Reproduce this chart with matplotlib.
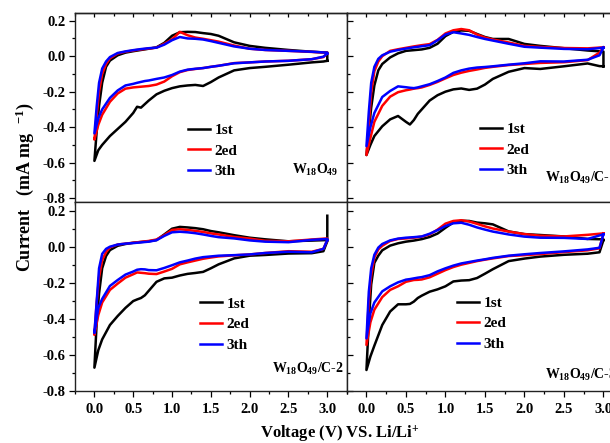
import matplotlib
matplotlib.use("Agg")
import matplotlib.pyplot as plt
from matplotlib.ticker import MultipleLocator

plt.rcParams["font.family"] = "Liberation Serif"
plt.rcParams["font.weight"] = "bold"
plt.rcParams["mathtext.fontset"] = "custom"
plt.rcParams["mathtext.rm"] = "Liberation Serif:bold"
plt.rcParams["mathtext.it"] = "Liberation Serif:bold"
plt.rcParams["mathtext.bf"] = "Liberation Serif:bold"
plt.rcParams["axes.unicode_minus"] = False

# ---------------- data ----------------
# cathodic scan (3.0 V -> 0.0 V) and anodic scan (0.0 V -> 3.0 V)
V_LOW = [3.0, 2.95, 2.8, 2.5, 2.2, 2.0, 1.8, 1.6, 1.5, 1.4, 1.3, 1.2, 1.1, 1.0,
         0.9, 0.8, 0.7, 0.65, 0.6, 0.55, 0.5, 0.4, 0.3, 0.2, 0.1, 0.05, 0.0]
V_UP = [0.0, 0.03, 0.06, 0.1, 0.15, 0.2, 0.3, 0.4, 0.5, 0.6, 0.7, 0.8, 0.9, 1.0,
        1.1, 1.2, 1.3, 1.4, 1.5, 1.6, 1.8, 2.0, 2.2, 2.5, 2.8, 3.0]

cycles = ["1st", "2ed", "3th"]
colors = ["#000000", "#ff0000", "#0000ff"]

# Panel A: W18O49
A_low_1 = [-0.026, -0.03, -0.035, -0.048, -0.06, -0.067, -0.08, -0.12, -0.146, -0.168, -0.162, -0.165, -0.17, -0.18,
           -0.195, -0.215, -0.25, -0.27, -0.29, -0.285, -0.32, -0.37, -0.41, -0.45, -0.50, -0.53, -0.59]
A_low_2 = [0.015, -0.005, -0.017, -0.026, -0.03, -0.035, -0.039, -0.054, -0.06, -0.067, -0.072, -0.078, -0.09, -0.113,
           -0.143, -0.16, -0.168, -0.17, -0.172, -0.174, -0.176, -0.183, -0.21, -0.257, -0.33, -0.387, -0.47]
A_low_3 = [0.015, -0.003, -0.017, -0.026, -0.03, -0.035, -0.04, -0.054, -0.06, -0.067, -0.071, -0.076, -0.087, -0.106,
           -0.12, -0.128, -0.137, -0.14, -0.145, -0.15, -0.156, -0.165, -0.193, -0.235, -0.30, -0.35, -0.435]
A_up_1 = [-0.59, -0.42, -0.28, -0.15, -0.06, -0.025, 0.005, 0.02, 0.028, 0.035, 0.042, 0.05, 0.075, 0.115,
          0.135, 0.137, 0.136, 0.13, 0.125, 0.115, 0.078, 0.058, 0.047, 0.035, 0.025, 0.02]
A_up_2 = [-0.47, -0.33, -0.2, -0.1, -0.045, -0.012, 0.015, 0.025, 0.032, 0.038, 0.043, 0.048, 0.07, 0.095,
          0.137, 0.118, 0.105, 0.098, 0.09, 0.082, 0.06, 0.042, 0.035, 0.03, 0.024, 0.02]
A_up_3 = [-0.435, -0.28, -0.15, -0.07, -0.03, -0.005, 0.018, 0.027, 0.034, 0.04, 0.045, 0.048, 0.065, 0.09,
          0.108, 0.1, 0.098, 0.094, 0.085, 0.075, 0.055, 0.042, 0.035, 0.03, 0.025, 0.02]

# Panel B: W18O49/C-1
B_low_1 = [-0.057, -0.056, -0.041, -0.057, -0.072, -0.067, -0.088, -0.128, -0.16, -0.183, -0.19, -0.182, -0.187, -0.2,
           -0.22, -0.25, -0.30, -0.325, -0.36, -0.385, -0.37, -0.337, -0.356, -0.395, -0.45, -0.50, -0.557]
B_low_2 = [0.05, 0.02, -0.022, -0.034, -0.038, -0.044, -0.05, -0.06, -0.066, -0.075, -0.083, -0.093, -0.106, -0.125,
           -0.145, -0.162, -0.176, -0.18, -0.183, -0.188, -0.192, -0.203, -0.228, -0.28, -0.37, -0.461, -0.557]
B_low_3 = [0.048, 0.005, -0.02, -0.03, -0.029, -0.04, -0.048, -0.057, -0.061, -0.064, -0.07, -0.08, -0.094, -0.12,
           -0.14, -0.158, -0.17, -0.176, -0.18, -0.178, -0.175, -0.17, -0.196, -0.23, -0.32, -0.40, -0.507]
B_up_1 = [-0.557, -0.424, -0.29, -0.165, -0.08, -0.044, -0.007, 0.016, 0.03, 0.034, 0.038, 0.047, 0.07, 0.113,
          0.137, 0.145, 0.143, 0.125, 0.108, 0.097, 0.097, 0.069, 0.058, 0.045, 0.032, 0.026]
B_up_2 = [-0.557, -0.387, -0.205, -0.085, -0.03, 0.0, 0.03, 0.039, 0.047, 0.055, 0.062, 0.068, 0.092, 0.128,
          0.146, 0.153, 0.146, 0.122, 0.105, 0.094, 0.077, 0.058, 0.052, 0.046, 0.044, 0.05]
B_up_3 = [-0.507, -0.313, -0.15, -0.06, -0.015, 0.005, 0.025, 0.035, 0.043, 0.05, 0.056, 0.062, 0.09, 0.122,
          0.135, 0.128, 0.12, 0.108, 0.097, 0.088, 0.07, 0.053, 0.048, 0.041, 0.039, 0.048]

# Panel C: W18O49/C-2
C_low_1 = [0.03, -0.025, -0.036, -0.038, -0.046, -0.05, -0.065, -0.098, -0.12, -0.14, -0.146, -0.151, -0.16, -0.172,
           -0.176, -0.195, -0.245, -0.27, -0.285, -0.293, -0.302, -0.34, -0.385, -0.435, -0.515, -0.575, -0.672]
C_low_2 = [0.037, -0.012, -0.028, -0.025, -0.035, -0.043, -0.048, -0.054, -0.06, -0.067, -0.077, -0.087, -0.098, -0.123,
           -0.138, -0.152, -0.15, -0.147, -0.145, -0.143, -0.153, -0.172, -0.205, -0.24, -0.31, -0.38, -0.49]
C_low_3 = [0.037, -0.012, -0.031, -0.028, -0.035, -0.043, -0.047, -0.05, -0.054, -0.058, -0.066, -0.077, -0.087, -0.103,
           -0.118, -0.131, -0.13, -0.126, -0.125, -0.128, -0.138, -0.155, -0.185, -0.218, -0.29, -0.34, -0.48]
C_up_1 = [-0.672, -0.417, -0.26, -0.12, -0.052, -0.019, 0.005, 0.015, 0.022, 0.026, 0.03, 0.037, 0.068, 0.1,
          0.11, 0.107, 0.103, 0.097, 0.087, 0.08, 0.064, 0.05, 0.041, 0.03, 0.034, 0.037]
C_spike_1 = 0.172  # final current of the 1st cycle at 3.0 V
C_up_2 = [-0.49, -0.306, -0.17, -0.075, -0.03, -0.004, 0.012, 0.017, 0.022, 0.027, 0.032, 0.04, 0.064, 0.093,
          0.097, 0.093, 0.088, 0.082, 0.074, 0.068, 0.054, 0.045, 0.033, 0.03, 0.04, 0.046]
C_up_3 = [-0.48, -0.3, -0.12, -0.04, -0.012, 0.0, 0.012, 0.017, 0.02, 0.024, 0.028, 0.036, 0.06, 0.08,
          0.083, 0.08, 0.075, 0.068, 0.06, 0.053, 0.046, 0.035, 0.028, 0.025, 0.038, 0.043]

# Panel D: W18O49/C-3
D_low_1 = [0.037, -0.031, -0.039, -0.045, -0.055, -0.066, -0.08, -0.125, -0.15, -0.174, -0.186, -0.188, -0.193, -0.22,
           -0.237, -0.25, -0.272, -0.285, -0.305, -0.318, -0.32, -0.32, -0.36, -0.435, -0.55, -0.61, -0.685]
D_low_2 = [0.074, -0.009, -0.02, -0.03, -0.041, -0.047, -0.052, -0.065, -0.072, -0.08, -0.09, -0.1, -0.113, -0.13,
           -0.15, -0.17, -0.182, -0.184, -0.185, -0.19, -0.195, -0.22, -0.24, -0.28, -0.35, -0.42, -0.546]
D_low_3 = [0.069, -0.006, -0.015, -0.026, -0.035, -0.042, -0.05, -0.062, -0.07, -0.077, -0.085, -0.093, -0.105, -0.12,
           -0.137, -0.158, -0.169, -0.172, -0.176, -0.18, -0.183, -0.198, -0.22, -0.248, -0.31, -0.37, -0.509]
D_up_1 = [-0.685, -0.417, -0.21, -0.09, -0.05, -0.02, 0.006, 0.019, 0.028, 0.034, 0.042, 0.054, 0.073, 0.105,
          0.135, 0.144, 0.143, 0.134, 0.13, 0.124, 0.085, 0.07, 0.065, 0.057, 0.043, 0.041]
D_up_2 = [-0.546, -0.3, -0.16, -0.06, -0.015, 0.005, 0.032, 0.043, 0.046, 0.05, 0.056, 0.068, 0.095, 0.128,
          0.143, 0.147, 0.14, 0.127, 0.113, 0.101, 0.084, 0.07, 0.061, 0.057, 0.066, 0.074]
D_up_3 = [-0.509, -0.25, -0.12, -0.045, -0.005, 0.015, 0.035, 0.045, 0.05, 0.053, 0.057, 0.072, 0.092, 0.115,
          0.13, 0.133, 0.122, 0.107, 0.095, 0.084, 0.068, 0.056, 0.05, 0.049, 0.043, 0.069]

panel_labels = ["W$_{18}$O$_{49}$", "W$_{18}$O$_{49}$/C-1", "W$_{18}$O$_{49}$/C-2", "W$_{18}$O$_{49}$/C-3"]
X_TICKS = [0.0, 0.5, 1.0, 1.5, 2.0, 2.5, 3.0]
Y_TICKS = [-0.8, -0.6, -0.4, -0.2, 0.0, 0.2]

panels = [
    [(A_low_1, A_up_1), (A_low_2, A_up_2), (A_low_3, A_up_3)],
    [(B_low_1, B_up_1), (B_low_2, B_up_2), (B_low_3, B_up_3)],
    [(C_low_1, C_up_1), (C_low_2, C_up_2), (C_low_3, C_up_3)],
    [(D_low_1, D_up_1), (D_low_2, D_up_2), (D_low_3, D_up_3)],
]

# ---------------- layout ----------------
W, H = 610, 443
fig = plt.figure(figsize=(W / 100, H / 100), dpi=100)


def add_px_axes(x0, top, w, h):
    return fig.add_axes([x0 / W, 1 - (top + h) / H, w / W, h / H])


axes = [
    add_px_axes(75, 12.7, 271.7, 189),
    add_px_axes(346.7, 12.7, 276.5, 189),
    add_px_axes(75, 201.7, 271.7, 189),
    add_px_axes(346.7, 201.7, 276.5, 189),
]
ylims = [(-0.82, 0.245), (-0.82, 0.245), (-0.8, 0.25), (-0.8, 0.25)]

legend_pos = [(0.416, 0.415), (0.482, 0.42), (0.46, 0.495), (0.399, 0.50)]
label_pos = [(0.799, 0.147), (0.717, 0.104), (0.725, 0.094), (0.717, 0.062)]

for k, ax in enumerate(axes):
    handles = []
    for c, (low, up) in enumerate(panels[k]):
        v = V_LOW + V_UP + [V_LOW[0]]
        i = low + up + [low[0]]
        if k == 2 and c == 0:
            v = V_LOW + V_UP + [V_UP[-1]]
            i = low + up + [C_spike_1]
        ln, = ax.plot(v, i, color=colors[c], lw=1.8, label=cycles[c], solid_joinstyle="round")
        handles.append(ln)

    ax.set_xlim(-0.25, 3.25)
    ax.set_ylim(*ylims[k])
    ax.set_xticks(X_TICKS)
    ax.set_yticks(Y_TICKS)
    ax.xaxis.set_minor_locator(MultipleLocator(0.25))
    ax.yaxis.set_minor_locator(MultipleLocator(0.1))
    for s in ax.spines.values():
        s.set_linewidth(1.0)
        s.set_color("#222222")

    left = k in (0, 2)
    bottom = k in (2, 3)
    ax.tick_params(axis="y", which="both", direction="out" if left else "in",
                   labelleft=left, labelsize=10.5, width=0.9, pad=3)
    ax.tick_params(axis="y", which="major", length=4)
    ax.tick_params(axis="y", which="minor", length=2.5)
    ax.tick_params(axis="x", which="both", direction="out", labelbottom=bottom,
                   labelsize=10.5, width=0.9, pad=4)
    ax.tick_params(axis="x", which="major", length=4.5)
    ax.tick_params(axis="x", which="minor", length=2.5)
    for t in ax.get_xticklabels() + ax.get_yticklabels():
        t.set_fontweight("bold")

    if k in (0, 1):
        sec = ax.secondary_xaxis("top")
        sec.set_xticks(X_TICKS)
        sec.xaxis.set_minor_locator(MultipleLocator(0.25))
        sec.tick_params(axis="x", which="both", direction="in", labeltop=False, width=0.9)
        sec.tick_params(axis="x", which="major", length=3)
        sec.tick_params(axis="x", which="minor", length=2)
        sec.spines["top"].set_linewidth(1.0)
        sec.spines["top"].set_color("#222222")

    ax.legend(handles=handles, loc="upper left", bbox_to_anchor=legend_pos[k],
              frameon=False, handlelength=1.45, handletextpad=0.3,
              labelspacing=0.45, borderpad=0, borderaxespad=0,
              prop={"weight": "bold", "size": 11})
    ax.text(label_pos[k][0], label_pos[k][1], panel_labels[k], transform=ax.transAxes,
            ha="left", va="baseline", fontsize=10, fontweight="bold")

fig.text(25 / W, 1 - 187 / H, "Current   (mA mg  $^{-1}$)", rotation=90,
         ha="center", va="center", fontsize=13, fontweight="bold")
fig.text(340 / W, 1 - 434 / H, "Voltage (V) VS. Li/Li$^{+}$",
         ha="center", va="center", fontsize=12, fontweight="bold")

fig.savefig("out.png", dpi=100)
